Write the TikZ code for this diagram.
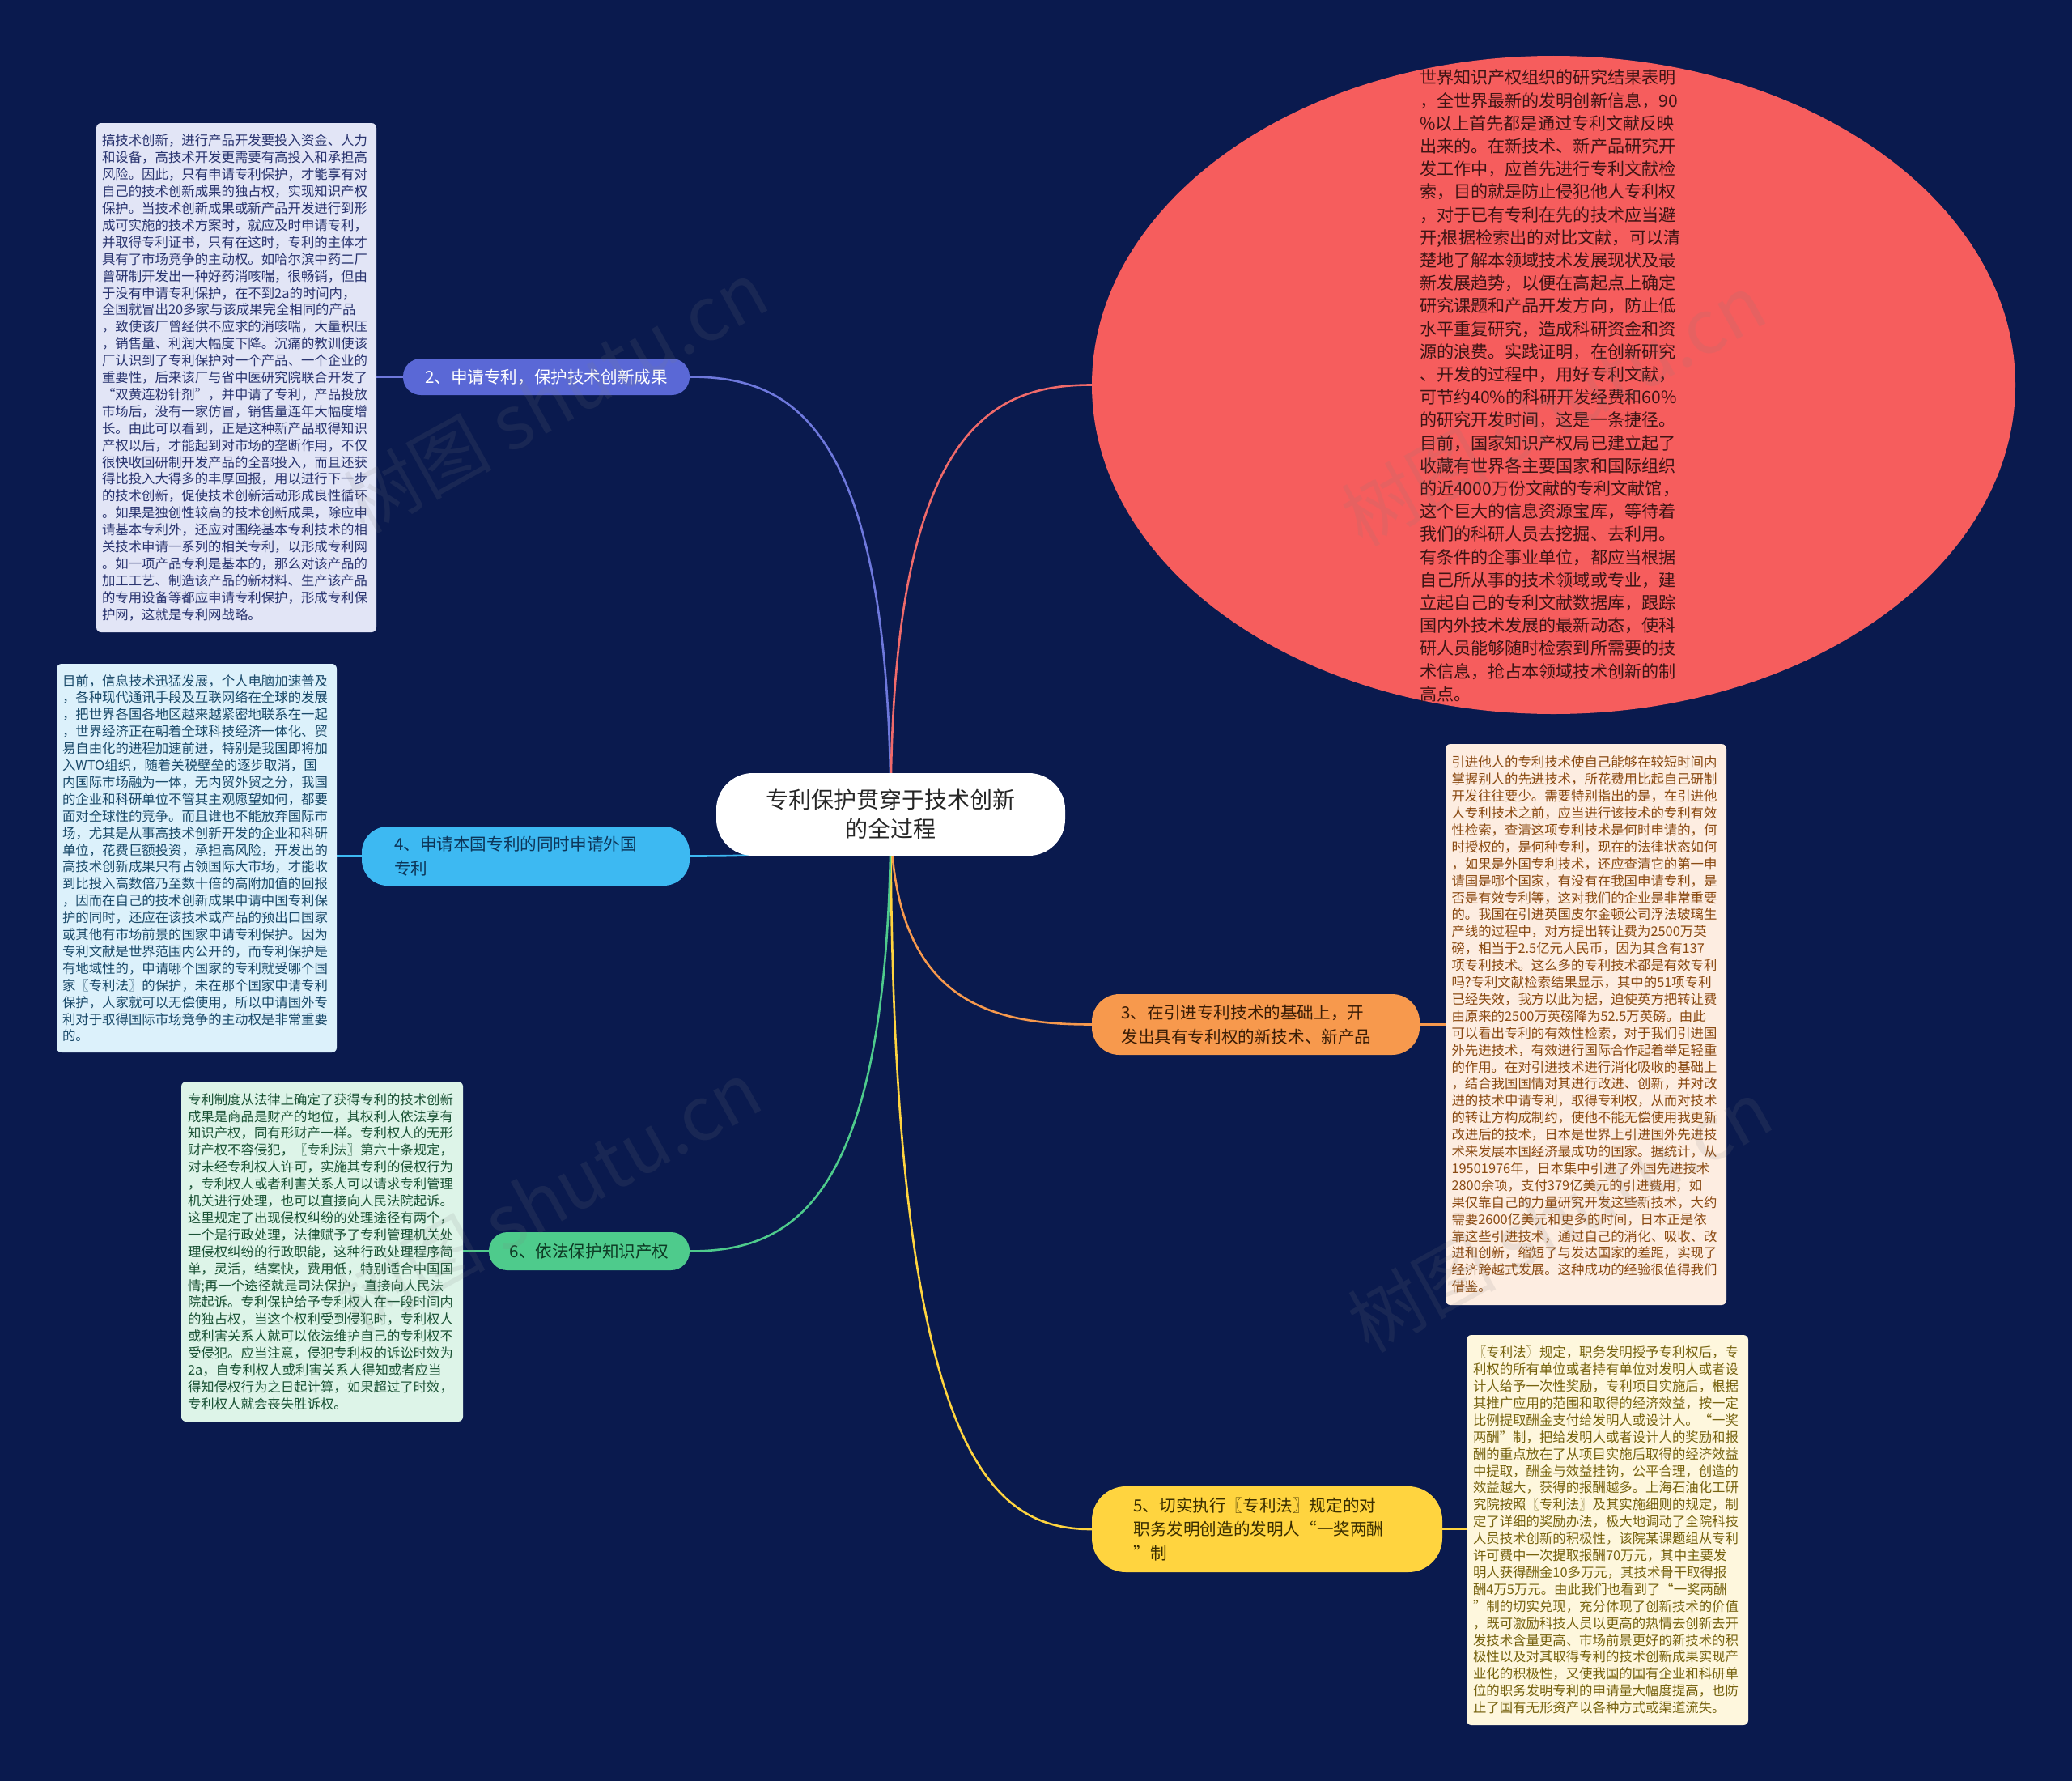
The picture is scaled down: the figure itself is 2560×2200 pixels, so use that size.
\documentclass[tikz,border=0pt]{standalone}
\usepackage{fontspec}
\setmainfont{Noto Sans CJK SC}
\usetikzlibrary{shapes.geometric}
\pgfdeclarelayer{back}
\pgfdeclarelayer{lines}
\pgfdeclarelayer{front}
\pgfsetlayers{back,lines,main,front}
\definecolor{bgnavy}{HTML}{0A1A4E}
\definecolor{redfill}{HTML}{F65D5D}
\definecolor{redtext}{HTML}{3E1414}
\definecolor{redline}{HTML}{F06A6A}
\definecolor{bluefill}{HTML}{5A68D6}
\definecolor{blueline}{HTML}{6E78DC}
\definecolor{skyfill}{HTML}{3DB9F2}
\definecolor{skytext}{HTML}{0D3558}
\definecolor{greenfill}{HTML}{4ECB8C}
\definecolor{greentext}{HTML}{0D3A24}
\definecolor{orangefill}{HTML}{F7994D}
\definecolor{orangetext}{HTML}{3A1C05}
\definecolor{yellowfill}{HTML}{FFD43F}
\definecolor{yellowtext}{HTML}{3A2E00}
\definecolor{leafA}{HTML}{E2E5F6}
\definecolor{leafAtext}{HTML}{2A3570}
\definecolor{leafB}{HTML}{DCF1FB}
\definecolor{leafBtext}{HTML}{1A4A6A}
\definecolor{leafC}{HTML}{DDF4E8}
\definecolor{leafCtext}{HTML}{1A5235}
\definecolor{leafD}{HTML}{FDEDE1}
\definecolor{leafDtext}{HTML}{8A4A12}
\definecolor{leafE}{HTML}{FEF7DD}
\definecolor{leafEtext}{HTML}{76620E}
\newcommand\mmleaffont{\fontsize{16.4}{20.9}\selectfont}
\newcommand\mmbranchfont{\fontsize{20.6}{30}\selectfont}
\newcommand\mmrootfont{\fontsize{28}{36}\selectfont}
\newcommand\mmellfont{\fontsize{21.1}{28.2}\selectfont}
\tikzset{
  leafbox/.style={rounded corners=6pt, inner sep=0pt, align=left, text width=332pt, font=\mmleaffont},
  branchbox/.style={inner sep=0pt, font=\mmbranchfont},
  conn/.style={line width=2.6pt},
  wmark/.style={font=\fontsize{92}{92}\selectfont, text=gray, opacity=0.13, rotate=29}
}
\begin{document}
\begin{tikzpicture}[x=1pt,y=-1pt]
\begin{pgfonlayer}{back}
\fill[bgnavy] (0,0) rectangle (2560,2200);
\end{pgfonlayer}

% root
\node[fill=white, rounded corners=45pt, inner sep=0pt, minimum width=431pt, minimum height=102pt, align=center, font=\mmrootfont, text={black!85}] (R) at (1100.5,1006) {专利保护贯穿于技术创新\\的全过程};

% red ellipse branch
\node[ellipse, fill=redfill, inner sep=0pt, minimum width=1141pt, minimum height=813pt] (E) at (1919.5,475.5) {};
\node[inner sep=0pt, align=left, text width=332pt, font=\mmellfont, text=redtext] (ET) at (1920,476.5) {世界知识产权组织的研究结果表明\\
，全世界最新的发明创新信息，90\\
\%以上首先都是通过专利文献反映\\
出来的。在新技术、新产品研究开\\
发工作中，应首先进行专利文献检\\
索，目的就是防止侵犯他人专利权\\
，对于已有专利在先的技术应当避\\
开;根据检索出的对比文献，可以清\\
楚地了解本领域技术发展现状及最\\
新发展趋势，以便在高起点上确定\\
研究课题和产品开发方向，防止低\\
水平重复研究，造成科研资金和资\\
源的浪费。实践证明，在创新研究\\
、开发的过程中，用好专利文献，\\
可节约40\%的科研开发经费和60\%\\
的研究开发时间，这是一条捷径。\\
目前，国家知识产权局已建立起了\\
收藏有世界各主要国家和国际组织\\
的近4000万份文献的专利文献馆，\\
这个巨大的信息资源宝库，等待着\\
我们的科研人员去挖掘、去利用。\\
有条件的企事业单位，都应当根据\\
自己所从事的技术领域或专业，建\\
立起自己的专利文献数据库，跟踪\\
国内外技术发展的最新动态，使科\\
研人员能够随时检索到所需要的技\\
术信息，抢占本领域技术创新的制\\
高点。};

% branches
\node[branchbox, fill=bluefill, rounded corners=22pt, minimum width=354pt, minimum height=45pt, text=white] (B2) at (675,465.5) {2、申请专利，保护技术创新成果};
\node[branchbox, fill=skyfill, rounded corners=32pt, minimum width=405pt, minimum height=73pt, align=left, text width=325pt, text=skytext] (B4) at (649.5,1057.5) {4、申请本国专利的同时申请外国\\专利};
\node[branchbox, fill=greenfill, rounded corners=23pt, minimum width=248pt, minimum height=47pt, text=greentext] (B6) at (728,1545.5) {6、依法保护知识产权};
\node[branchbox, fill=orangefill, rounded corners=34pt, minimum width=405pt, minimum height=75pt, align=left, text width=332pt, text=orangetext] (B3) at (1551.5,1265.5) {3、在引进专利技术的基础上，开\\发出具有专利权的新技术、新产品};
\node[branchbox, fill=yellowfill, rounded corners=42pt, minimum width=433pt, minimum height=106pt, align=left, text width=330pt, text=yellowtext, font=\fontsize{20.6}{29.4}\selectfont] (B5) at (1565.5,1889) {5、切实执行〖专利法〗规定的对\\职务发明创造的发明人“一奖两酬\\”制};

% leaves
\node[leafbox, fill=leafA, text=leafAtext, minimum width=346pt, minimum height=629pt] (L2) at (292,466.5) {搞技术创新，进行产品开发要投入资金、人力\\
和设备，高技术开发更需要有高投入和承担高\\
风险。因此，只有申请专利保护，才能享有对\\
自己的技术创新成果的独占权，实现知识产权\\
保护。当技术创新成果或新产品开发进行到形\\
成可实施的技术方案时，就应及时申请专利，\\
并取得专利证书，只有在这时，专利的主体才\\
具有了市场竞争的主动权。如哈尔滨中药二厂\\
曾研制开发出一种好药消咳喘，很畅销，但由\\
于没有申请专利保护，在不到2a的时间内，\\
全国就冒出20多家与该成果完全相同的产品\\
，致使该厂曾经供不应求的消咳喘，大量积压\\
，销售量、利润大幅度下降。沉痛的教训使该\\
厂认识到了专利保护对一个产品、一个企业的\\
重要性，后来该厂与省中医研究院联合开发了\\
“双黄连粉针剂”，并申请了专利，产品投放\\
市场后，没有一家仿冒，销售量连年大幅度增\\
长。由此可以看到，正是这种新产品取得知识\\
产权以后，才能起到对市场的垄断作用，不仅\\
很快收回研制开发产品的全部投入，而且还获\\
得比投入大得多的丰厚回报，用以进行下一步\\
的技术创新，促使技术创新活动形成良性循环\\
。如果是独创性较高的技术创新成果，除应申\\
请基本专利外，还应对围绕基本专利技术的相\\
关技术申请一系列的相关专利，以形成专利网\\
。如一项产品专利是基本的，那么对该产品的\\
加工工艺、制造该产品的新材料、生产该产品\\
的专用设备等都应申请专利保护，形成专利保\\
护网，这就是专利网战略。};

\node[leafbox, fill=leafB, text=leafBtext, minimum width=346pt, minimum height=480pt] (L4) at (243,1060) {目前，信息技术迅猛发展，个人电脑加速普及\\
，各种现代通讯手段及互联网络在全球的发展\\
，把世界各国各地区越来越紧密地联系在一起\\
，世界经济正在朝着全球科技经济一体化、贸\\
易自由化的进程加速前进，特别是我国即将加\\
入WTO组织，随着关税壁垒的逐步取消，国\\
内国际市场融为一体，无内贸外贸之分，我国\\
的企业和科研单位不管其主观愿望如何，都要\\
面对全球性的竞争。而且谁也不能放弃国际市\\
场，尤其是从事高技术创新开发的企业和科研\\
单位，花费巨额投资，承担高风险，开发出的\\
高技术创新成果只有占领国际大市场，才能收\\
到比投入高数倍乃至数十倍的高附加值的回报\\
，因而在自己的技术创新成果申请中国专利保\\
护的同时，还应在该技术或产品的预出口国家\\
或其他有市场前景的国家申请专利保护。因为\\
专利文献是世界范围内公开的，而专利保护是\\
有地域性的，申请哪个国家的专利就受哪个国\\
家〖专利法〗的保护，未在那个国家申请专利\\
保护，人家就可以无偿使用，所以申请国外专\\
利对于取得国际市场竞争的主动权是非常重要\\
的。};

\node[leafbox, fill=leafC, text=leafCtext, minimum width=348pt, minimum height=420pt] (L6) at (398,1546) {专利制度从法律上确定了获得专利的技术创新\\
成果是商品是财产的地位，其权利人依法享有\\
知识产权，同有形财产一样。专利权人的无形\\
财产权不容侵犯，〖专利法〗第六十条规定，\\
对未经专利权人许可，实施其专利的侵权行为\\
，专利权人或者利害关系人可以请求专利管理\\
机关进行处理，也可以直接向人民法院起诉。\\
这里规定了出现侵权纠纷的处理途径有两个，\\
一个是行政处理，法律赋予了专利管理机关处\\
理侵权纠纷的行政职能，这种行政处理程序简\\
单，灵活，结案快，费用低，特别适合中国国\\
情;再一个途径就是司法保护，直接向人民法\\
院起诉。专利保护给予专利权人在一段时间内\\
的独占权，当这个权利受到侵犯时，专利权人\\
或利害关系人就可以依法维护自己的专利权不\\
受侵犯。应当注意，侵犯专利权的诉讼时效为\\
2a，自专利权人或利害关系人得知或者应当\\
得知侵权行为之日起计算，如果超过了时效，\\
专利权人就会丧失胜诉权。};

\node[leafbox, fill=leafD, text=leafDtext, minimum width=347pt, minimum height=693pt] (L3) at (1959.5,1265.5) {引进他人的专利技术使自己能够在较短时间内\\
掌握别人的先进技术，所花费用比起自己研制\\
开发往往要少。需要特别指出的是，在引进他\\
人专利技术之前，应当进行该技术的专利有效\\
性检索，查清这项专利技术是何时申请的，何\\
时授权的，是何种专利，现在的法律状态如何\\
，如果是外国专利技术，还应查清它的第一申\\
请国是哪个国家，有没有在我国申请专利，是\\
否是有效专利等，这对我们的企业是非常重要\\
的。我国在引进英国皮尔金顿公司浮法玻璃生\\
产线的过程中，对方提出转让费为2500万英\\
磅，相当于2.5亿元人民币，因为其含有137\\
项专利技术。这么多的专利技术都是有效专利\\
吗?专利文献检索结果显示，其中的51项专利\\
已经失效，我方以此为据，迫使英方把转让费\\
由原来的2500万英磅降为52.5万英磅。由此\\
可以看出专利的有效性检索，对于我们引进国\\
外先进技术，有效进行国际合作起着举足轻重\\
的作用。在对引进技术进行消化吸收的基础上\\
，结合我国国情对其进行改进、创新，并对改\\
进的技术申请专利，取得专利权，从而对技术\\
的转让方构成制约，使他不能无偿使用我更新\\
改进后的技术，日本是世界上引进国外先进技\\
术来发展本国经济最成功的国家。据统计，从\\
19501976年，日本集中引进了外国先进技术\\
2800余项，支付379亿美元的引进费用，如\\
果仅靠自己的力量研究开发这些新技术，大约\\
需要2600亿美元和更多的时间，日本正是依\\
靠这些引进技术，通过自己的消化、吸收、改\\
进和创新，缩短了与发达国家的差距，实现了\\
经济跨越式发展。这种成功的经验很值得我们\\
借鉴。};

\node[leafbox, fill=leafE, text=leafEtext, minimum width=348pt, minimum height=482pt] (L5) at (1986,1890) {〖专利法〗规定，职务发明授予专利权后，专\\
利权的所有单位或者持有单位对发明人或者设\\
计人给予一次性奖励，专利项目实施后，根据\\
其推广应用的范围和取得的经济效益，按一定\\
比例提取酬金支付给发明人或设计人。“一奖\\
两酬”制，把给发明人或者设计人的奖励和报\\
酬的重点放在了从项目实施后取得的经济效益\\
中提取，酬金与效益挂钩，公平合理，创造的\\
效益越大，获得的报酬越多。上海石油化工研\\
究院按照〖专利法〗及其实施细则的规定，制\\
定了详细的奖励办法，极大地调动了全院科技\\
人员技术创新的积极性，该院某课题组从专利\\
许可费中一次提取报酬70万元，其中主要发\\
明人获得酬金10多万元，其技术骨干取得报\\
酬4万5万元。由此我们也看到了“一奖两酬\\
”制的切实兑现，充分体现了创新技术的价值\\
，既可激励科技人员以更高的热情去创新去开\\
发技术含量更高、市场前景更好的新技术的积\\
极性以及对其取得专利的技术创新成果实现产\\
业化的积极性，又使我国的国有企业和科研单\\
位的职务发明专利的申请量大幅度提高，也防\\
止了国有无形资产以各种方式或渠道流失。};

% connectors
\begin{pgfonlayer}{lines}
\draw[conn, blueline] (R.center) .. controls (1100,519.5) and (976,465.5) .. (B2.east);
\draw[conn, redline] (R.center) .. controls (1100,528) and (1225,475.5) .. (E.west);
\draw[conn, skyfill] (R.center) .. controls (1100,1052) and (976,1057.5) .. (B4.east);
\draw[conn, orangefill] (R.center) .. controls (1100,1239.5) and (1225,1265.5) .. (B3.west);
\draw[conn, yellowfill] (R.center) .. controls (1100,1800.7) and (1225,1889) .. (B5.west);
\draw[conn, greenfill] (R.center) .. controls (1100,1491.5) and (976,1545.5) .. (B6.east);
\draw[conn, blueline] (B2.west) -- (L2.east |- B2.west);
\draw[conn, skyfill] (B4.west) -- (L4.east |- B4.west);
\draw[conn, greenfill] (B6.west) -- (L6.east |- B6.west);
\draw[conn, orangefill] (B3.east) -- (L3.west |- B3.east);
\draw[conn, yellowfill] (B5.east) -- (L5.west |- B5.east);
\end{pgfonlayer}

% watermarks
\begin{pgfonlayer}{front}
\node[wmark] (W1) at (686,490) {树图 shutu.cn};
\node[wmark] (W2) at (1919,506) {树图 shutu.cn};
\node[wmark] (W3) at (678,1478) {树图 shutu.cn};
\node[wmark] (W4) at (1927,1502) {树图 shutu.cn};
\end{pgfonlayer}
\end{tikzpicture}
\end{document}
